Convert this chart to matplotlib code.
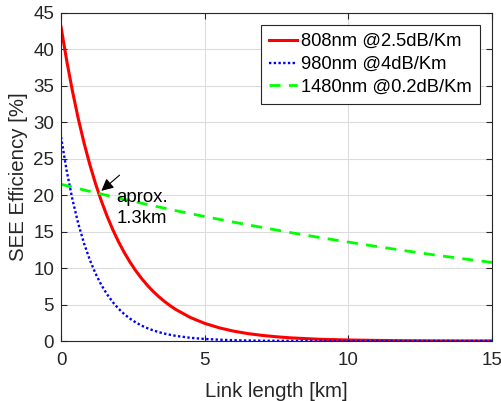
import matplotlib
matplotlib.use("Agg")
import matplotlib.pyplot as plt

plt.rcParams['font.family'] = ['Liberation Sans', 'DejaVu Sans']

# valores (eficiencia SEE em % x comprimento do enlace em km)
x_808 = [0, 0.2, 0.4, 0.6, 0.8, 1.0, 1.2, 1.4, 1.6, 1.8, 2.0, 2.2, 2.4, 2.6, 2.8, 3.0,
         3.2, 3.4, 3.6, 3.8, 4.0, 4.5, 5.0, 5.5, 6.0, 6.5, 7.0, 7.5, 8, 9, 10, 11, 12,
         13, 14, 15]
y_808 = [43.10, 38.41, 34.24, 30.51, 27.19, 24.24, 21.60, 19.25, 17.16, 15.29, 13.63,
         12.15, 10.83, 9.65, 8.60, 7.66, 6.83, 6.09, 5.43, 4.84, 4.31, 3.23, 2.42, 1.82,
         1.36, 1.02, 0.77, 0.58, 0.43, 0.24, 0.14, 0.08, 0.04, 0.02, 0.01, 0.01]

x_980 = [0, 0.2, 0.4, 0.6, 0.8, 1.0, 1.2, 1.4, 1.6, 1.8, 2.0, 2.2, 2.4, 2.6, 2.8, 3.0,
         3.2, 3.4, 3.6, 3.8, 4.0, 4.5, 5.0, 5.5, 6.0, 6.5, 7.0, 7.5, 8, 9, 10, 11, 12,
         13, 14, 15]
y_980 = [28.00, 23.29, 19.37, 16.11, 13.40, 11.15, 9.27, 7.71, 6.42, 5.34, 4.44, 3.69,
         3.07, 2.55, 2.12, 1.77, 1.47, 1.22, 1.02, 0.85, 0.70, 0.44, 0.28, 0.18, 0.11,
         0.07, 0.04, 0.03, 0.02, 0.01, 0.0, 0.0, 0.0, 0.0, 0.0, 0.0]

x_1480 = [0, 1, 2, 3, 4, 5, 6, 7, 8, 9, 10, 11, 12, 13, 14, 15]
y_1480 = [21.50, 20.53, 19.61, 18.73, 17.88, 17.08, 16.31, 15.58, 14.87, 14.20, 13.57,
          12.96, 12.37, 11.81, 11.28, 10.78]

labels = ["808nm @2.5dB/Km", "980nm @4dB/Km", "1480nm @0.2dB/Km"]
ponto_cruzamento = (1.33, 20.35)

fig = plt.figure(figsize=(5.01, 4.01), dpi=100)
ax = fig.add_axes([0.1218, 0.1496, 0.8602, 0.818])

ax.plot(x_808, y_808, color='#ff0000', lw=2.2, label=labels[0])
ax.plot(x_980, y_980, color='#0000ff', lw=1.7, ls=(0, (1, 1.0)), label=labels[1])
ax.plot(x_1480, y_1480, color='#00ff00', lw=2.0, ls=(0, (4, 3)), label=labels[2])

# seta + texto indicando o cruzamento
ax.annotate("", xy=ponto_cruzamento, xytext=(2.11, 23.0),
            arrowprops=dict(arrowstyle='-|>', color='k', lw=0.8, mutation_scale=18))
ax.text(1.93, 18.2, "aprox.\n1.3km", fontsize=13.4, va='center', ha='left',
        linespacing=1.3, color='k')

ax.set_xlim(0, 15)
ax.set_ylim(0, 45)
ax.set_xticks([0, 5, 10, 15])
ax.set_yticks(range(0, 46, 5))
ax.grid(True, color='#dcdcdc', lw=0.8)
ax.set_axisbelow(True)
ax.tick_params(direction='in', top=True, right=True, labelsize=13.5, colors='#262626',
               length=4)
ax.tick_params(axis='x', pad=8)
ax.tick_params(axis='y', pad=5)
for s in ax.spines.values():
    s.set_color('#262626')
    s.set_linewidth(0.8)

ax.set_xlabel("Link length [km]", fontsize=14.7, color='#262626', labelpad=9)
ax.set_ylabel("SEE Efficiency [%]", fontsize=14.7, color='#262626', labelpad=4)

leg = ax.legend(loc='upper right', fontsize=13.2, fancybox=False, framealpha=1,
                edgecolor='#262626', handlelength=1.55, handletextpad=0.2,
                borderpad=0.45, labelspacing=0.32, borderaxespad=0.65)
leg.get_frame().set_linewidth(0.8)

fig.savefig("out.png", dpi=100)
